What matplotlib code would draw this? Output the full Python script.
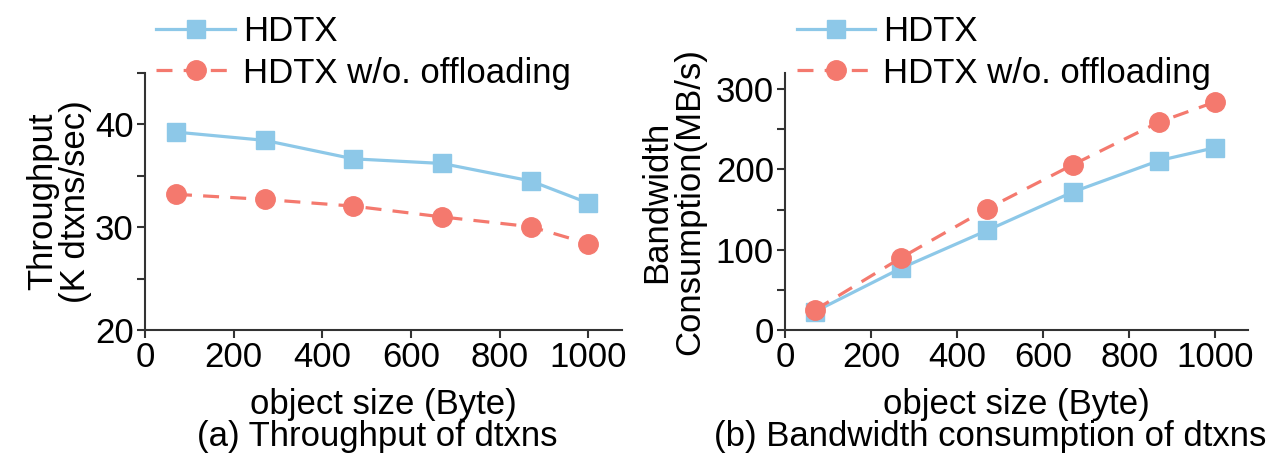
import numpy as np
import matplotlib
matplotlib.use("Agg")
import matplotlib.pyplot as plt
from matplotlib.ticker import MultipleLocator

plt.rcParams["font.family"] = ["Liberation Sans", "DejaVu Sans"]

# 数据
obj_size = [70, 270, 470, 670, 870, 1000]
tput_hdtx = [39.25, 38.45, 36.65, 36.2, 34.5, 32.35]
tput_nooff = [33.2, 32.7, 32.05, 31.0, 30.05, 28.4]
bw_hdtx = [23, 77, 124, 172, 211, 227]
bw_nooff = [25, 90, 151, 206, 259, 284]

labels = ["HDTX", "HDTX w/o. offloading"]
blue = "#8DC8E8"
red = "#F4796E"
fs = 25

fig = plt.figure(figsize=(12.75, 4.58), dpi=100)
ax1 = fig.add_axes([0.1137, 0.2795, 0.3745, 0.5611])
ax2 = fig.add_axes([0.6157, 0.2795, 0.3633, 0.5611])


def style(ax):
    for s in ["top", "right"]:
        ax.spines[s].set_visible(False)
    for s in ["left", "bottom"]:
        ax.spines[s].set_linewidth(1.5)
        ax.spines[s].set_color("#333333")
    ax.tick_params(which="both", direction="out", length=6, width=1.5,
                   color="#333333", labelsize=fs, pad=2)
    ax.set_xlim(0, 1077)
    ax.xaxis.set_major_locator(MultipleLocator(200))


for ax, y1, y2 in [(ax1, tput_hdtx, tput_nooff), (ax2, bw_hdtx, bw_nooff)]:
    ax.plot(obj_size, y1, color=blue, lw=2.3, marker="s", ms=13, label=labels[0])
    ax.plot(obj_size, y2, color=red, lw=2.3, ls=(0, (5, 3.5)), marker="o", ms=14,
            label=labels[1])
    style(ax)
    ax.set_xlabel("object size (Byte)", fontsize=fs, labelpad=10)
    ax.legend(loc="upper left", bbox_to_anchor=(-0.005, 1.28), frameon=False,
              fontsize=fs, handlelength=2.25, handletextpad=0.25,
              labelspacing=0.25, borderaxespad=0)

ax1.set_ylim(20, 45)
ax1.yaxis.set_major_locator(MultipleLocator(10))
ax1.yaxis.set_minor_locator(MultipleLocator(5))
ax1.set_ylabel("Throughput\n(K dtxns/sec)", fontsize=fs, labelpad=2, linespacing=1.0)
ax1.text(0.487, -0.415, "(a) Throughput of dtxns", transform=ax1.transAxes,
         ha="center", va="center", fontsize=fs)

ax2.set_ylim(0, 320)
ax2.yaxis.set_major_locator(MultipleLocator(100))
ax2.yaxis.set_minor_locator(MultipleLocator(50))
ax2.set_ylabel("Bandwidth\nConsumption(MB/s)", fontsize=fs, labelpad=7, linespacing=1.0)
ax2.text(0.443, -0.415, "(b) Bandwidth consumption of dtxns", transform=ax2.transAxes,
         ha="center", va="center", fontsize=fs)

fig.savefig("out.png", dpi=100)
